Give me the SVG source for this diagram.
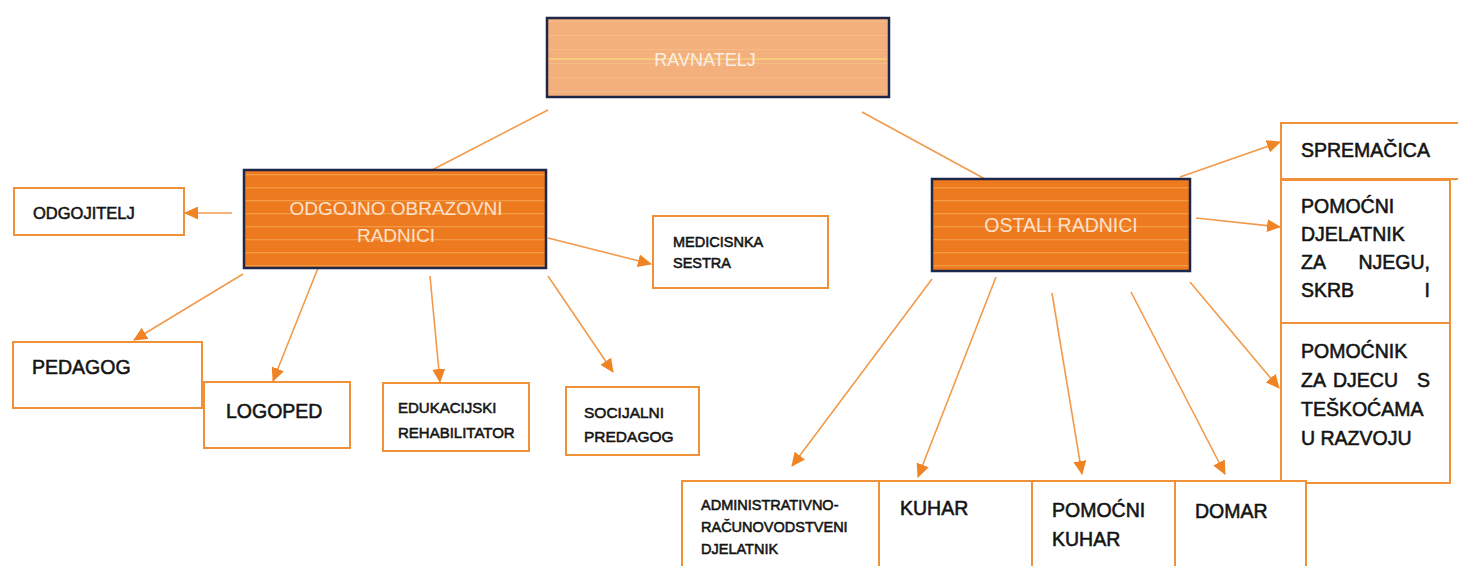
<svg xmlns="http://www.w3.org/2000/svg" width="1458" height="566" viewBox="0 0 1458 566">
<style>
.bg{fill:#ffffff}
.box{fill:#ffffff;stroke:#F0913A;stroke-width:2}
.dark{stroke:#1F2748;stroke-width:2.5}
.t{font-family:"Liberation Sans",Arial,sans-serif;fill:#141414;stroke:#141414;stroke-width:0.55}
.w{font-family:"Liberation Sans",Arial,sans-serif;fill:#FCE2CC}
.c{stroke:#F29A4C;stroke-width:1.6;fill:none}
.a{marker-end:url(#ah)}
</style>
<defs>
<marker id="ah" markerWidth="14" markerHeight="13" refX="13" refY="6.5" orient="auto" markerUnits="userSpaceOnUse">
<path d="M0,0 L14,6.5 L0,13 z" fill="#F08424"/>
</marker>
<pattern id="stripeDark" x="0" y="0" width="20" height="13" patternUnits="userSpaceOnUse">
<rect width="20" height="13" fill="#EE7A20"/>
<rect y="5" width="20" height="1.3" fill="#F39A44"/>
</pattern>
<pattern id="stripeLight" x="0" y="0" width="20" height="14" patternUnits="userSpaceOnUse">
<rect width="20" height="14" fill="#F4B07C"/>
<rect y="7" width="20" height="1" fill="#F6BC88"/>
</pattern>
</defs>
<rect class="bg" width="1458" height="566"/>

<g id="connectors">
<line class="c" x1="548" y1="110" x2="432" y2="170"/>
<line class="c" x1="862" y1="112" x2="985" y2="179"/>
<line class="c a" x1="232" y1="213" x2="185" y2="213"/>
<line class="c a" x1="548" y1="238" x2="651" y2="264"/>
<line class="c a" x1="243" y1="274" x2="134" y2="340"/>
<line class="c a" x1="318" y1="268" x2="273" y2="381"/>
<line class="c a" x1="430" y1="276" x2="440" y2="382"/>
<line class="c a" x1="548" y1="276" x2="613" y2="372"/>
<line class="c a" x1="1180" y1="177" x2="1280" y2="142"/>
<line class="c a" x1="1196" y1="218" x2="1280" y2="227"/>
<line class="c a" x1="1190" y1="282" x2="1279" y2="388"/>
<line class="c a" x1="932" y1="279" x2="792" y2="466"/>
<line class="c a" x1="996" y1="277" x2="918" y2="477"/>
<line class="c a" x1="1052" y1="293" x2="1082" y2="474"/>
<line class="c a" x1="1131" y1="292" x2="1225" y2="474"/>
</g>

<g id="ravnatelj">
<rect class="dark" x="547" y="18" width="342" height="79" fill="url(#stripeLight)"/>
<line x1="549" y1="59" x2="887" y2="59" stroke="#F9D27A" stroke-width="1.5"/>
<text class="w" x="705" y="66" font-size="18" text-anchor="middle" fill="#FDEEE2" style="fill:#FDEEE2">RAVNATELJ</text>
</g>

<g id="odgojno">
<rect class="dark" x="244" y="170" width="302" height="98" fill="url(#stripeDark)"/>
<text class="w" x="396" y="215" font-size="19" text-anchor="middle">ODGOJNO OBRAZOVNI</text>
<text class="w" x="396" y="242" font-size="19" text-anchor="middle">RADNICI</text>
</g>

<g id="ostali">
<rect class="dark" x="932" y="179" width="258" height="92" fill="url(#stripeDark)"/>
<text class="w" x="1061" y="232" font-size="19.5" text-anchor="middle">OSTALI RADNICI</text>
</g>

<g id="odgojitelj">
<rect class="box" x="14" y="188" width="170" height="47"/>
<text class="t" x="33" y="219" font-size="16.5">ODGOJITELJ</text>
</g>

<g id="medicinska">
<rect class="box" x="653" y="216" width="175" height="72"/>
<text class="t" x="673" y="247" font-size="14.5">MEDICISNKA</text>
<text class="t" x="673" y="268" font-size="14.5">SESTRA</text>
</g>

<g id="pedagog">
<rect class="box" x="13" y="342" width="189" height="66"/>
<text class="t" x="32" y="374" font-size="19.5">PEDAGOG</text>
</g>

<g id="logoped">
<rect class="box" x="204" y="382" width="146" height="66"/>
<text class="t" x="226" y="418" font-size="19.5">LOGOPED</text>
</g>

<g id="edukacijski">
<rect class="box" x="383" y="383" width="146" height="68"/>
<text class="t" x="398" y="413" font-size="15">EDUKACIJSKI</text>
<text class="t" x="398" y="438" font-size="15">REHABILITATOR</text>
</g>

<g id="socijalni">
<rect class="box" x="566" y="387" width="133" height="68"/>
<text class="t" x="584" y="418" font-size="15.5">SOCIJALNI</text>
<text class="t" x="584" y="442" font-size="15.5">PREDAGOG</text>
</g>

<g id="spremacica">
<rect class="box" x="1281" y="123" width="190" height="56"/>
<text class="t" x="1301" y="157" font-size="19.5">SPREMAČICA</text>
</g>

<g id="pomocni-djelatnik">
<rect class="box" x="1281" y="180" width="169" height="143"/>
<text class="t" x="1301" y="213" font-size="19.5">POMOĆNI</text>
<text class="t" x="1301" y="241" font-size="19.5">DJELATNIK</text>
<text class="t" x="1301" y="269" font-size="19.5">ZA</text>
<text class="t" x="1430" y="269" font-size="19.5" text-anchor="end">NJEGU,</text>
<text class="t" x="1301" y="297" font-size="19.5">SKRB</text>
<text class="t" x="1430" y="297" font-size="19.5" text-anchor="end">I</text>
</g>

<g id="pomocnik-djeca">
<rect class="box" x="1281" y="323" width="169" height="160"/>
<text class="t" x="1301" y="358" font-size="19.5">POMOĆNIK</text>
<text class="t" x="1301" y="387" font-size="19.5">ZA</text>
<text class="t" x="1333" y="387" font-size="19.5">DJECU</text>
<text class="t" x="1430" y="387" font-size="19.5" text-anchor="end">S</text>
<text class="t" x="1301" y="416" font-size="19.5">TEŠKOĆAMA</text>
<text class="t" x="1301" y="445" font-size="19.5">U RAZVOJU</text>
</g>

<g id="administrativno">
<rect class="box" x="682" y="481" width="197" height="100"/>
<text class="t" x="701" y="510" font-size="14.5">ADMINISTRATIVNO-</text>
<text class="t" x="701" y="532" font-size="14.5">RAČUNOVODSTVENI</text>
<text class="t" x="701" y="554" font-size="14.5">DJELATNIK</text>
</g>

<g id="kuhar">
<rect class="box" x="879" y="481" width="153" height="100"/>
<text class="t" x="900" y="515" font-size="19.5">KUHAR</text>
</g>

<g id="pomocni-kuhar">
<rect class="box" x="1032" y="481" width="143" height="100"/>
<text class="t" x="1052" y="517" font-size="19.5">POMOĆNI</text>
<text class="t" x="1052" y="546" font-size="19.5">KUHAR</text>
</g>

<g id="domar">
<rect class="box" x="1175" y="481" width="131" height="100"/>
<text class="t" x="1195" y="518" font-size="19.5">DOMAR</text>
</g>
</svg>
